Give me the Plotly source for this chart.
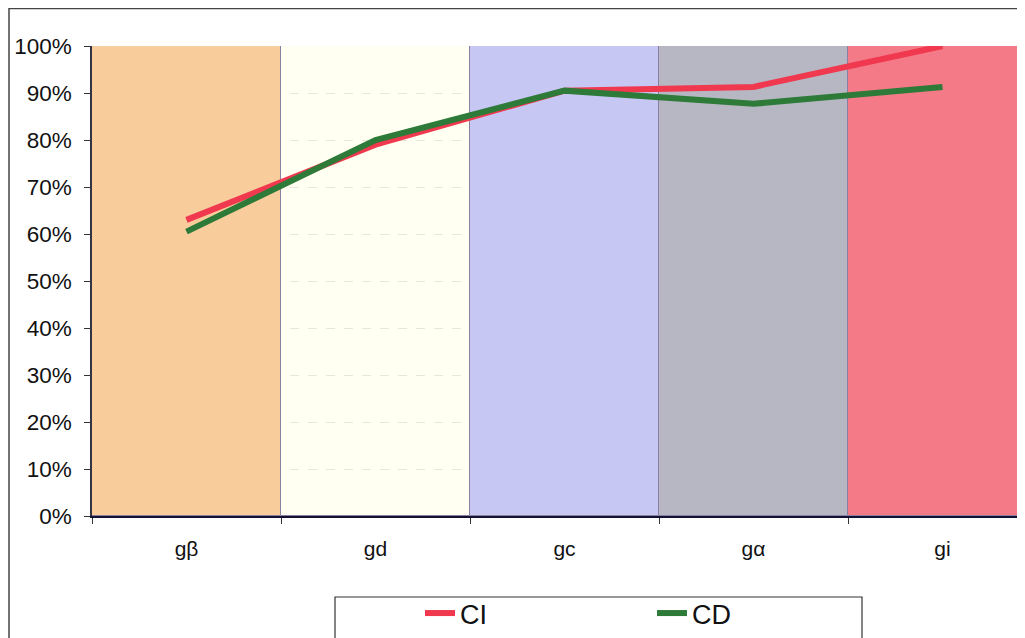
import plotly.graph_objects as go

categories = ["gβ", "gd", "gc", "gα", "gi"]
ci_values = [0.63, 0.79, 0.905, 0.913, 1.00]
cd_values = [0.605, 0.80, 0.905, 0.877, 0.913]
band_values = [1, 1, 1, 1, 1]
band_colors = ["#F9CC9C", "rgba(255,255,232,0.55)", "#C7C7F3", "#B6B7C3", "#F47A88"]
y_ticks = [0, 0.1, 0.2, 0.3, 0.4, 0.5, 0.6, 0.7, 0.8, 0.9, 1.0]
y_tick_labels = ["0%", "10%", "20%", "30%", "40%", "50%", "60%", "70%", "80%", "90%", "100%"]

W, H = 1025, 638
L, T, B = 84, 38, 130
PW, PH = W - L, H - T - B

fig = go.Figure()
fig.add_trace(go.Bar(
    x=categories, y=band_values, width=1,
    marker=dict(color=band_colors, line=dict(color="#8A7FA0", width=1)),
    showlegend=False, hoverinfo="skip",
))
fig.add_trace(go.Scatter(
    x=categories, y=ci_values, mode="lines", name="CI",
    line=dict(color="#F0384E", width=6), cliponaxis=False,
))
fig.add_trace(go.Scatter(
    x=categories, y=cd_values, mode="lines", name="CD",
    line=dict(color="#2E7A38", width=6), cliponaxis=False,
))

fig.update_layout(
    width=W, height=H,
    margin=dict(l=L, r=0, t=T, b=B, autoexpand=False),
    paper_bgcolor="white", plot_bgcolor="white",
    font=dict(family="Liberation Sans, Arial, sans-serif", color="#111111"),
    bargap=0,
    legend=dict(
        orientation="h", xref="container", yref="container",
        x=412 / W, y=1 - 581 / H, xanchor="left", yanchor="top",
        font=dict(size=27, color="#111111"), entrywidth=187, entrywidthmode="pixels",
        bgcolor="rgba(0,0,0,0)", borderwidth=0,
    ),
    shapes=[
        dict(type="rect", xref="paper", yref="paper",
             x0=(1 - L) / PW, x1=1.02, y0=-0.3, y1=(T + PH - 0.5) / PH,
             line=dict(color="#444444", width=1.5), fillcolor="rgba(0,0,0,0)", layer="below"),
        dict(type="rect", xref="paper", yref="paper",
             x0=(327 - L) / PW, x1=(854 - L) / PW, y0=(T + PH - 589) / PH, y1=-0.3,
             line=dict(color="#333333", width=1.2), fillcolor="rgba(0,0,0,0)"),
    ],
)
fig.update_xaxes(
    range=[-0.5, -0.5 + PW / 189], showgrid=False, showline=True, linecolor="#111133", linewidth=2,
    ticks="", tickfont=dict(size=21), ticklabelstandoff=13,
    minor=dict(ticks="outside", ticklen=6, tickcolor="#333333",
               tickvals=[-0.5, 0.5, 1.5, 2.5, 3.5, 4.5], showgrid=False),
)
fig.update_yaxes(
    range=[0, 1], tickvals=y_ticks, ticktext=y_tick_labels,
    showgrid=True, gridcolor="#C8C8C8", griddash="dash", gridwidth=1,
    showline=True, linecolor="#333344", linewidth=1.5,
    ticks="outside", ticklen=6, tickcolor="#333333",
    tickfont=dict(size=22.5), zeroline=False, ticklabelstandoff=8,
)

fig.write_html("out.html")
